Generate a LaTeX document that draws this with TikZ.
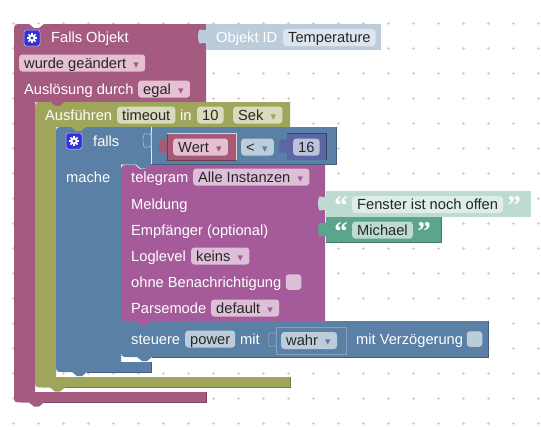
\documentclass[tikz,border=0pt]{standalone}
\usepackage{fontspec}
\setmainfont{Liberation Sans}
\newfontfamily\quotefont{Liberation Serif}
\newfontfamily\symbolfont{DejaVu Sans}
\usepackage{tikz}

\definecolor{pinkblock}{HTML}{A55B80}
\definecolor{pinkfield}{HTML}{E4C0D2}
\definecolor{roseblock}{HTML}{A55B76}
\definecolor{olivblock}{HTML}{9FA55B}
\definecolor{olivfield}{HTML}{D9DBBD}
\definecolor{blueblock}{HTML}{5B80A5}
\definecolor{bluefield}{HTML}{BDCCDB}
\definecolor{bluepale}{HTML}{DEE5ED}
\definecolor{purpblock}{HTML}{A55B99}
\definecolor{purpfield}{HTML}{DDBFD8}
\definecolor{tealblock}{HTML}{5BA58C}
\definecolor{tealfield}{HTML}{BDDBD1}
\definecolor{tealpale}{HTML}{DEEDE8}
\definecolor{numblock}{HTML}{5B67A5}
\definecolor{numfield}{HTML}{BDC2DB}
\definecolor{gearblue}{HTML}{3232D8}

\newcommand{\notchr}{-- ++(5,4) -- ++(5,0) -- ++(5,-4)}
\newcommand{\notchl}{-- ++(-5,4) -- ++(-5,0) -- ++(-5,-4)}
\newcommand{\pick}[1]{\hspace{6pt}\makebox[8pt][c]{\textcolor{#1}{\symbolfont\fontsize{11}{11}\selectfont ▾}}\hspace{5pt}}
% puzzle tab on the left edge of a block
\newcommand{\tabat}[3]{\path[#3,shift={(#1,#2)}] (0,20) .. controls (-1,17) and (-3,20) .. (-6,19.5) .. controls (-8.5,19) and (-8.5,6) .. (-6,5.5) .. controls (-3,5) and (-1,8) .. (0,5) -- cycle;}
% gear inside the mutator box
\newcommand{\gearat}[2]{
    \foreach \a in {0,45,...,315} {\draw[white,line width=1.6,shift={(#1,#2)}] (0,0) -- (\a:5);}
    \fill[white] (#1,#2) circle (3.7);
    \fill[gearblue] (#1,#2) circle (1.7);
}

\tikzset{
    lbl/.style={anchor=west,text=white,inner sep=0pt,text height=10.5,text depth=0,font=\fontsize{14.67}{16}\selectfont},
    field/.style={anchor=west,text=black!85,inner xsep=5pt,inner ysep=0pt,minimum height=17,rounded corners=3,text height=10.5,text depth=0,font=\fontsize{14.67}{16}\selectfont},
    qmark/.style={text=white,inner sep=0pt,font=\quotefont\bfseries\fontsize{27}{27}\selectfont,text height=12,text depth=0},
    gearbox/.style={fill=gearblue,draw=white!70!gearblue,line width=.5,rounded corners=2.5,minimum size=16,inner sep=0pt},
    check/.style={rounded corners=3,minimum size=15.5,inner sep=0pt}
}

\begin{document}
\begin{tikzpicture}[x=1pt,y=-1pt]
    \useasboundingbox (0,0) rectangle (541,429);
    \fill[white] (0,0) rectangle (541,429);

    % Grid
    \foreach \x in {13,38,...,538} {
        \foreach \y in {23,48,...,423} {
            \draw[black!18,line width=.5] (\x-1.5,\y) -- (\x+1.5,\y) (\x,\y-1.5) -- (\x,\y+1.5);
        }
    }

    % Falls Objekt block
    \fill[pinkblock] (14,32) .. controls (14,24) .. (22,24) -- (29,24) \notchr -- (206,24) -- (206,102)
        -- (65,102) \notchl -- (35,102) -- (35,392) -- (206,392) -- (206,402.5)
        -- (44,402.5) \notchl -- (22,402.5) .. controls (14,402.5) .. (14,394.5) -- cycle;
    \draw[pinkblock!75!black,line width=.7] (206,392) -- (206,402.5) -- (44,402.5);

    % Ausfuehren block
    \fill[olivblock] (35,110) .. controls (35,102) .. (43,102) -- (50,102) \notchr -- (290,102) -- (290,127)
        -- (86,127) \notchl -- (56,127) -- (56,377) -- (290,377) -- (290,387.5)
        -- (65,387.5) \notchl -- (43,387.5) .. controls (35,387.5) .. (35,379.5) -- cycle;
    \draw[olivblock!75!black,line width=.7] (290,377) -- (290,387.5) -- (65,387.5);

    % falls block
    \fill[blueblock] (56,135) .. controls (56,127) .. (64,127) -- (71,127) \notchr -- (336,127) -- (336,164.5)
        -- (151,164.5) \notchl -- (121,164.5) -- (121,362) -- (151,362) -- (151,372)
        -- (87,372) \notchl -- (64,372) .. controls (56,372) .. (56,364) -- cycle;
    \draw[blueblock!75!black,line width=.7] (336,127) -- (336,164.5) -- (151,164.5);
    \draw[blueblock!75!black,line width=.7] (151,362) -- (151,372) -- (87,372);
    \draw[white!85!blueblock,line width=.5] (151,127) -- (151,164);
    \tabat{151}{128}{fill=blueblock,draw=white!45!blueblock,line width=.6}

    % steuere block
    \fill[blueblock] (121,321) -- (136,321) \notchr -- (488,321) -- (488,357) -- (152,357) \notchl -- (129,357)
        .. controls (121,357) .. (121,349) -- cycle;
    \draw[blueblock!75!black,line width=.7] (488,321) -- (488,357) -- (152,357);

    % telegram block
    \fill[purpblock] (121,173) .. controls (121,165) .. (129,165) -- (135,165) \notchr -- (325,165) -- (325,321)
        -- (151,321) \notchl -- (121,321) -- cycle;

    % Objekt ID block
    \fill[bluefield] (206,24) -- (381,24) -- (381,50) -- (206,50) -- cycle;
    \tabat{206}{24}{fill=bluefield}

    % Fenster block
    \fill[tealfield] (326,191) -- (531,191) -- (531,217) -- (326,217) -- cycle;
    \tabat{326}{191}{fill=tealfield}

    % Michael block
    \fill[tealblock] (326,217) -- (441,217) -- (441,242) -- (326,242) -- cycle;
    \draw[tealblock!75!black,line width=.7] (326,242) -- (441,242) -- (441,217);
    \tabat{326}{217}{fill=tealblock}

    % Wert block
    \fill[roseblock] (167,133.5) rectangle (236,160);
    \draw[roseblock!65!black,line width=.6] (167,133.5) -- (167,160) -- (236,160);
    \draw[white!70!roseblock,line width=.6] (167,133.5) -- (236,133.5) -- (236,160);
    \tabat{167}{133.5}{fill=roseblock}

    % 16 block
    \fill[numblock] (287,133.5) rectangle (326,160);
    \draw[numblock!65!black,line width=.6] (287,133.5) -- (326,133.5) -- (326,160);
    \tabat{287}{133.5}{fill=numblock}

    % wahr block
    \draw[blueblock,fill=blueblock] (276,327) rectangle (346,354);
    \draw[white!25!blueblock,line width=.7] (276,327) -- (346,327) -- (346,354) -- (276,354) -- cycle;
    \tabat{276}{327}{fill=blueblock,draw=white!25!blueblock,line width=.7}

    % Row texts and fields
    \node[gearbox] (gearObjekt) at (32,38) {};
    \gearat{32}{38}
    \node[lbl] (fallsObjekt) at (51,37) {Falls Objekt};
    \node[lbl] (objektId) at (216,37) {Objekt ID};
    \node[field,fill=bluepale] (topicField) at (283,37.5) {Temperature};
    \node[field,fill=pinkfield] (changeField) at (19,63) {wurde geändert\pick{pinkblock}};
    \node[lbl] (ausloesung) at (24,89) {Auslösung durch};
    \node[field,fill=pinkfield] (egalField) at (138,89) {egal\pick{pinkblock}};
    \node[lbl] (ausfuehren) at (45,115) {Ausführen};
    \node[field,fill=olivfield] (timeoutField) at (117,115) {timeout};
    \node[lbl] (inLabel) at (180,115) {in};
    \node[field,fill=olivfield] (delayField) at (197,115) {10};
    \node[field,fill=olivfield] (sekField) at (233,115) {Sek\pick{olivblock}};

    \node[gearbox] (gearFalls) at (74,141) {};
    \gearat{74}{141}
    \node[lbl] (fallsLabel) at (93,141) {falls};
    \node[lbl] (macheLabel) at (66,177) {mache};
    \node[field,fill=pinkfield] (wertField) at (173,147) {Wert\pick{roseblock}};
    \node[field,fill=bluefield] (opField) at (241,147) {<\pick{blueblock}};
    \node[field,fill=numfield] (numField) at (293,147) {16};

    \node[lbl] (telegramLabel) at (131,177) {telegram};
    \node[field,fill=purpfield] (telegramField) at (193,177) {Alle Instanzen\pick{purpblock}};
    \node[lbl] (meldungLabel) at (131,204) {Meldung};
    \node[lbl] (empfaengerLabel) at (131,230) {Empfänger (optional)};
    \node[lbl] (loglevelLabel) at (131,256) {Loglevel};
    \node[field,fill=purpfield] (loglevelField) at (191,256) {keins\pick{purpblock}};
    \node[lbl] (ohneLabel) at (131,282) {ohne Benachrichtigung};
    \node[check,fill=purpfield] (ohneCheck) at (293.5,282) {};
    \node[lbl] (parseLabel) at (131,308) {Parsemode};
    \node[field,fill=purpfield] (parseField) at (211,308) {default\pick{purpblock}};

    \node[qmark] (fensterOpen) at (341,208) {“};
    \node[field,fill=tealpale] (fensterField) at (352,204.5) {Fenster ist noch offen};
    \node[qmark] (fensterClose) at (514,208) {”};
    \node[qmark] (michaelOpen) at (341,234) {“};
    \node[field,fill=tealfield] (michaelField) at (352,230) {Michael};
    \node[qmark] (michaelClose) at (424,234) {”};

    \node[lbl] (steuereLabel) at (131,339) {steuere};
    \node[field,fill=bluefield] (powerField) at (185,339) {power};
    \node[lbl] (mitLabel) at (240,339) {mit};
    \node[field,fill=bluefield] (wahrField) at (281,340.5) {wahr\pick{blueblock}};
    \node[lbl] (verzLabel) at (356,339) {mit Verzögerung};
    \node[check,fill=bluefield] (verzCheck) at (474.5,339) {};
\end{tikzpicture}
\end{document}
